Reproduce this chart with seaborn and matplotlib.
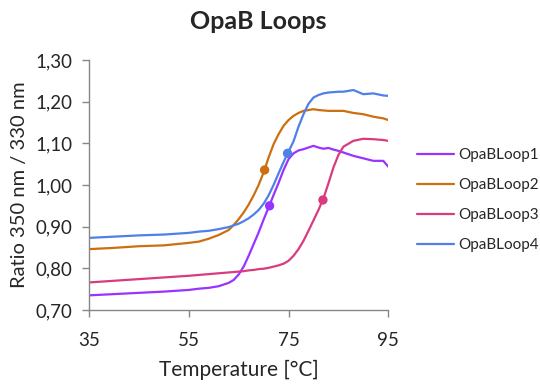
import pandas as pd
import matplotlib
matplotlib.use('Agg')
import matplotlib.pyplot as plt
import seaborn as sns

temp = [35, 40, 45, 50, 55, 57, 59, 61, 63, 64, 65, 66, 67, 68, 69, 70, 71, 72,
        73, 74, 75, 76, 77, 78, 79, 80, 81, 82, 83, 84, 85, 86, 88, 90, 92, 94, 95]

loop1 = [0.735, 0.738, 0.741, 0.744, 0.748, 0.751, 0.753, 0.757, 0.765, 0.772,
         0.785, 0.804, 0.830, 0.858, 0.886, 0.917, 0.946, 0.976, 1.005, 1.036,
         1.062, 1.076, 1.083, 1.086, 1.090, 1.094, 1.090, 1.087, 1.089, 1.085,
         1.082, 1.078, 1.070, 1.064, 1.058, 1.058, 1.044]
loop2 = [0.846, 0.849, 0.853, 0.855, 0.861, 0.864, 0.871, 0.880, 0.892, 0.904,
         0.918, 0.934, 0.953, 0.975, 1.000, 1.030, 1.066, 1.098, 1.122, 1.142,
         1.156, 1.166, 1.173, 1.178, 1.180, 1.182, 1.180, 1.179, 1.178, 1.178,
         1.178, 1.178, 1.173, 1.170, 1.164, 1.160, 1.156]
loop3 = [0.766, 0.770, 0.774, 0.778, 0.782, 0.784, 0.786, 0.788, 0.790, 0.791,
         0.792, 0.793, 0.795, 0.796, 0.798, 0.799, 0.801, 0.804, 0.807, 0.811,
         0.818, 0.830, 0.846, 0.866, 0.890, 0.915, 0.940, 0.968, 1.004, 1.042,
         1.072, 1.092, 1.106, 1.111, 1.110, 1.108, 1.106]
loop4 = [0.873, 0.876, 0.879, 0.881, 0.885, 0.888, 0.890, 0.894, 0.899, 0.903,
         0.907, 0.913, 0.920, 0.929, 0.940, 0.955, 0.975, 1.000, 1.028, 1.055,
         1.080, 1.105, 1.140, 1.170, 1.195, 1.210, 1.216, 1.220, 1.222, 1.223,
         1.224, 1.224, 1.228, 1.218, 1.220, 1.215, 1.214]

names = ['OpaBLoop1', 'OpaBLoop2', 'OpaBLoop3', 'OpaBLoop4']
colors = ['#9933ff', '#cc6f10', '#d93b7e', '#4f7fe8']

# Schmelzpunkte (Marker)
tm_temp = [71.2, 70.2, 81.9, 74.8]
tm_ratio = [0.950, 1.036, 0.964, 1.076]

df = pd.DataFrame({'Temperature': temp * 4,
                   'Ratio': loop1 + loop2 + loop3 + loop4,
                   'Sample': [n for n in names for _ in temp]})
df_tm = pd.DataFrame({'Temperature': tm_temp, 'Ratio': tm_ratio, 'Sample': names})

sns.set_style('white')
plt.rcParams['font.family'] = ['Lato', 'DejaVu Sans']

fig = plt.figure(figsize=(5.4, 3.85), dpi=100)
ax = fig.add_axes([0.165, 0.195, 0.554, 0.649])

pal = dict(zip(names, colors))
sns.lineplot(data=df, x='Temperature', y='Ratio', hue='Sample', palette=pal,
             linewidth=1.6, ax=ax)
sns.scatterplot(data=df_tm, x='Temperature', y='Ratio', hue='Sample', palette=pal,
                s=45, edgecolor='none', legend=False, ax=ax, zorder=5)

ax.set_xlim(35, 95)
ax.set_ylim(0.70, 1.30)
ax.set_xticks([35, 55, 75, 95])
ax.set_yticks([0.7, 0.8, 0.9, 1.0, 1.1, 1.2, 1.3])
ax.set_yticklabels([f'{v:.2f}'.replace('.', ',') for v in ax.get_yticks()])
ax.tick_params(axis='both', labelsize=13.5, length=5, width=1, color='#868686',
               direction='out', pad=7, left=True, bottom=True)
ax.tick_params(axis='x', pad=11)
for s in ['top', 'right']:
    ax.spines[s].set_visible(False)
for s in ['left', 'bottom']:
    ax.spines[s].set_color('#868686')
    ax.spines[s].set_linewidth(1)

ax.set_xlabel('Temperature [°C]', fontsize=15, labelpad=8)
ax.set_ylabel('Ratio 350 nm / 330 nm', fontsize=14.5, labelpad=5)
fig.suptitle('OpaB Loops', fontsize=18, fontweight='bold', x=0.478, y=0.975)

handles, labels = ax.get_legend_handles_labels()
ax.legend(handles, labels, loc='center left', bbox_to_anchor=(1.05, 0.44),
          frameon=False, fontsize=11, handlelength=2.4, labelspacing=1.05,
          handletextpad=0.3)

fig.savefig('out.png', dpi=100)
